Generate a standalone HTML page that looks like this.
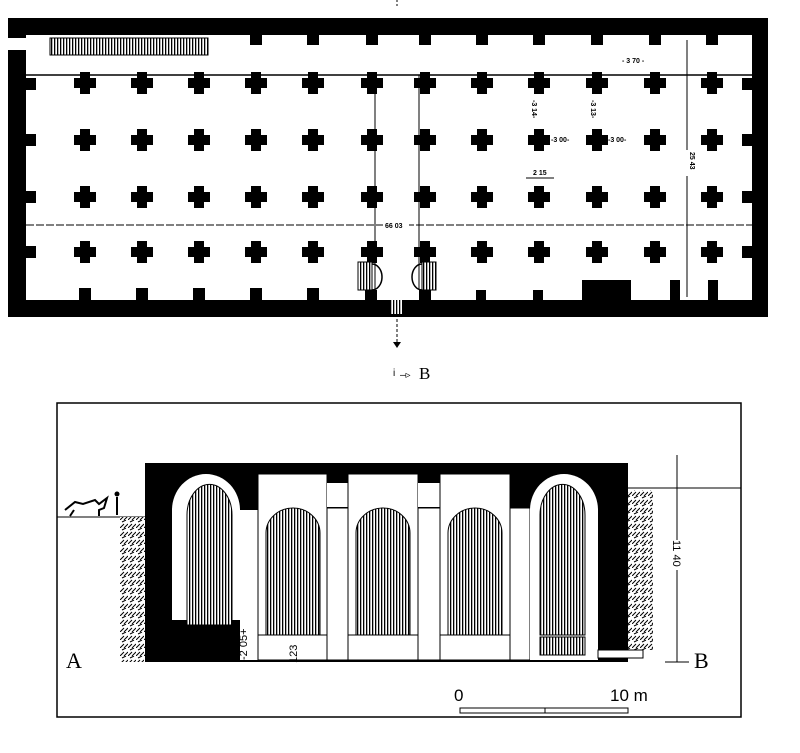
<!DOCTYPE html>
<html><head><style>body{margin:0;background:#fff}svg{display:block}</style></head><body>
<svg width="800" height="753" viewBox="0 0 800 753" xmlns="http://www.w3.org/2000/svg" font-family="Liberation Sans, sans-serif">
<defs>
<pattern id="v" width="3" height="10" patternUnits="userSpaceOnUse"><rect width="3" height="10" fill="#fff"/><rect width="1.3" height="10" fill="#000"/></pattern>
<pattern id="e" width="8" height="8" patternUnits="userSpaceOnUse"><rect width="8" height="8" fill="#fff"/><path d="M0 8L4 4M4 8L8 4M2 2L6 0" stroke="#000" stroke-width="1"/></pattern>
<g id="c"><path d="M-5-11h10v6h6v10h-6v6h-10v-6h-6v-10h6z"/></g>
</defs>
<!-- plan -->
<rect x="8" y="18" width="760" height="299" fill="#000"/>
<rect x="26" y="35" width="726" height="265" fill="#fff"/>
<rect x="8" y="38" width="20" height="12" fill="#fff"/>
<rect x="50" y="38" width="158" height="17" fill="url(#v)" stroke="#000"/>
<line x1="26" y1="75" x2="752" y2="75" stroke="#000" stroke-width="1.5"/>
<g fill="#000">
<rect x="250" y="35" width="12" height="10"/><rect x="307" y="35" width="12" height="10"/><rect x="366" y="35" width="12" height="10"/><rect x="419" y="35" width="12" height="10"/><rect x="476" y="35" width="12" height="10"/><rect x="533" y="35" width="12" height="10"/><rect x="591" y="35" width="12" height="10"/><rect x="649" y="35" width="12" height="10"/><rect x="706" y="35" width="12" height="10"/>
<g transform="translate(0,83)"><use href="#c" x="85"/><use href="#c" x="142"/><use href="#c" x="199"/><use href="#c" x="256"/><use href="#c" x="313"/><use href="#c" x="372"/><use href="#c" x="425"/><use href="#c" x="482"/><use href="#c" x="539"/><use href="#c" x="597"/><use href="#c" x="655"/><use href="#c" x="712"/></g>
<g transform="translate(0,140)"><use href="#c" x="85"/><use href="#c" x="142"/><use href="#c" x="199"/><use href="#c" x="256"/><use href="#c" x="313"/><use href="#c" x="372"/><use href="#c" x="425"/><use href="#c" x="482"/><use href="#c" x="539"/><use href="#c" x="597"/><use href="#c" x="655"/><use href="#c" x="712"/></g>
<g transform="translate(0,197)"><use href="#c" x="85"/><use href="#c" x="142"/><use href="#c" x="199"/><use href="#c" x="256"/><use href="#c" x="313"/><use href="#c" x="372"/><use href="#c" x="425"/><use href="#c" x="482"/><use href="#c" x="539"/><use href="#c" x="597"/><use href="#c" x="655"/><use href="#c" x="712"/></g>
<g transform="translate(0,252)"><use href="#c" x="85"/><use href="#c" x="142"/><use href="#c" x="199"/><use href="#c" x="256"/><use href="#c" x="313"/><use href="#c" x="372"/><use href="#c" x="425"/><use href="#c" x="482"/><use href="#c" x="539"/><use href="#c" x="597"/><use href="#c" x="655"/><use href="#c" x="712"/></g>
<rect x="26" y="78" width="10" height="12"/><rect x="26" y="134" width="10" height="12"/><rect x="26" y="191" width="10" height="12"/><rect x="26" y="246" width="10" height="12"/>
<rect x="742" y="78" width="10" height="12"/><rect x="742" y="134" width="10" height="12"/><rect x="742" y="191" width="10" height="12"/><rect x="742" y="246" width="10" height="12"/>
<rect x="79" y="288" width="12" height="12"/><rect x="136" y="288" width="12" height="12"/><rect x="193" y="288" width="12" height="12"/><rect x="250" y="288" width="12" height="12"/><rect x="307" y="288" width="12" height="12"/><rect x="476" y="290" width="10" height="10"/><rect x="533" y="290" width="10" height="10"/><rect x="670" y="280" width="10" height="20"/><rect x="708" y="280" width="10" height="20"/>
<rect x="582" y="280" width="49" height="20"/>
<rect x="365" y="290" width="12" height="10"/><rect x="419" y="290" width="12" height="10"/>
</g>
<line x1="375" y1="75" x2="375" y2="290" stroke="#000"/><line x1="419" y1="75" x2="419" y2="290" stroke="#000"/>
<rect x="358" y="262" width="14" height="28" fill="url(#v)" stroke="#000"/><path d="M372 264a10 13 0 0 1 0 26" fill="none" stroke="#000" stroke-width="1.5"/>
<rect x="422" y="262" width="14" height="28" fill="url(#v)" stroke="#000"/><path d="M422 264a10 13 0 0 0 0 26" fill="none" stroke="#000" stroke-width="1.5"/>
<rect x="391" y="300" width="12" height="14" fill="url(#v)"/>
<line x1="397" y1="314" x2="397" y2="342" stroke="#000" stroke-dasharray="3,2"/><path d="M393 342h8l-4 6z"/>
<text x="393" y="376" font-size="10">i</text><text x="400" y="378" font-size="10">–▹</text><text x="419" y="379" font-family="Liberation Serif, serif" font-size="17">B</text>
<line x1="26" y1="225" x2="752" y2="225" stroke="#000" stroke-dasharray="8,2"/>
<rect x="383" y="220" width="26" height="9" fill="#fff"/><text x="385" y="228" font-size="7" font-weight="bold">66 03</text>
<line x1="687" y1="40" x2="687" y2="297" stroke="#000"/>
<rect x="683" y="150" width="8" height="26" fill="#fff"/><text x="690" y="152" font-size="7" font-weight="bold" transform="rotate(90 690 152)">25 43</text>
<text x="622" y="63" font-size="7" font-weight="bold">- 3 70 -</text>
<text x="532" y="100" font-size="7" font-weight="bold" transform="rotate(90 532 100)">-3 14-</text>
<text x="591" y="100" font-size="7" font-weight="bold" transform="rotate(90 591 100)">-3 13-</text>
<text x="551" y="142" font-size="7" font-weight="bold">-3 00-</text><text x="608" y="142" font-size="7" font-weight="bold">-3 00-</text>
<text x="533" y="175" font-size="7" font-weight="bold">2 15</text><line x1="526" y1="178" x2="554" y2="178" stroke="#000"/>
<line x1="397" y1="0" x2="397" y2="8" stroke="#000" stroke-dasharray="2,2"/>
<!-- section -->
<rect x="57" y="403" width="684" height="314" fill="none" stroke="#000" stroke-width="1.5"/>
<path d="M57 517h88M628 488h113" stroke="#000"/>
<rect x="120" y="517" width="25" height="145" fill="url(#e)"/>
<rect x="628" y="490" width="25" height="160" fill="url(#e)"/>
<rect x="145" y="463" width="483" height="199" fill="#000"/>
<path d="M172 620V510a34 36 0 0 1 68 0v110z" fill="#fff"/>
<path d="M187 625V515a22 30 0 0 1 45 0v110z" fill="url(#v)" stroke="#000"/>
<rect x="240" y="510" width="18" height="150" fill="#fff"/>
<rect x="258" y="474" width="69" height="186" fill="#fff" stroke="#000"/>
<rect x="327" y="483" width="21" height="24" fill="#fff"/><rect x="327" y="508" width="21" height="152" fill="#fff" stroke="#000"/>
<rect x="348" y="474" width="70" height="186" fill="#fff" stroke="#000"/>
<rect x="418" y="483" width="22" height="24" fill="#fff"/><rect x="418" y="508" width="22" height="152" fill="#fff" stroke="#000"/>
<rect x="440" y="474" width="70" height="186" fill="#fff" stroke="#000"/>
<rect x="510" y="508" width="20" height="152" fill="#fff" stroke="#000"/>
<g fill="url(#v)" stroke="#000">
<path d="M266 635V533a27 25 0 0 1 54 0v102z"/><path d="M356 635V533a27 25 0 0 1 54 0v102z"/><path d="M448 635V533a27 25 0 0 1 54 0v102z"/>
</g>
<path d="M258 635h69M348 635h70M440 635h70" stroke="#000"/>
<path d="M530 660V510a34 36 0 0 1 68 0v150z" fill="#fff"/>
<path d="M540 635V515a22 30 0 0 1 45 0v120z" fill="url(#v)" stroke="#000"/>
<rect x="540" y="637" width="45" height="18" fill="url(#v)" stroke="#000"/>
<rect x="598" y="650" width="45" height="8" fill="#fff" stroke="#000"/>
<text x="247" y="660" font-size="11" transform="rotate(-90 247 660)">-2 05+</text>
<text x="297" y="663" font-size="11" transform="rotate(-90 297 663)">123</text>
<line x1="677" y1="455" x2="677" y2="662" stroke="#000"/><line x1="665" y1="662" x2="689" y2="662" stroke="#000"/>
<rect x="672" y="540" width="10" height="30" fill="#fff"/><text x="673" y="540" font-size="11" transform="rotate(90 673 540)">11 40</text>
<path d="M65 510l10-8 8 2 12-4 4 4 8-6-3 10-5 2v6M70 516l4-6" stroke="#000" fill="none" stroke-width="2"/>
<circle cx="117" cy="494" r="2.5"/><path d="M117 497v18" stroke="#000" stroke-width="2"/>
<text x="66" y="668" font-family="Liberation Serif, serif" font-size="22">A</text>
<text x="694" y="668" font-family="Liberation Serif, serif" font-size="22">B</text>
<text x="454" y="701" font-size="17">0</text><text x="610" y="701" font-size="17">10 m</text>
<rect x="460" y="708" width="168" height="5" fill="#fff" stroke="#000"/><line x1="545" y1="708" x2="545" y2="713" stroke="#000"/>
</svg>
</body></html>
